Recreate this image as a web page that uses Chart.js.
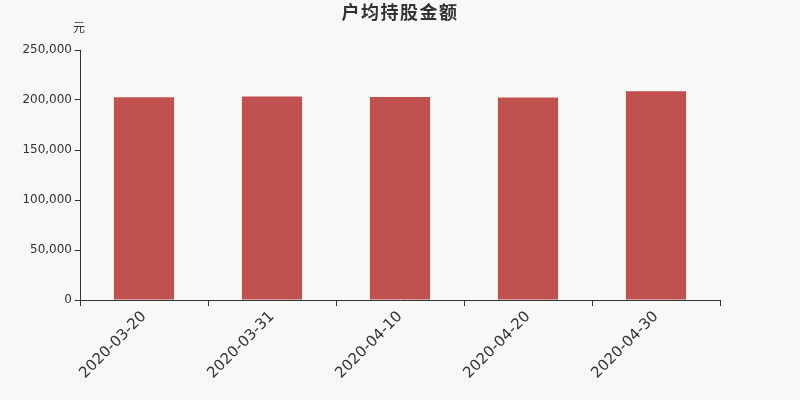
<!DOCTYPE html>
<html>
<head>
<meta charset="utf-8">
<script src="https://cdn.jsdelivr.net/npm/chart.js@4/dist/chart.umd.min.js"></script>
<style>
  html, body { margin: 0; padding: 0; background: #f8f8f8; }
  #wrap { width: 800px; height: 400px; }
</style>
</head>
<body>
<div id="wrap"><canvas id="myChart"></canvas></div>
<script>
const dates = ["2020-03-20", "2020-03-31", "2020-04-10", "2020-04-20", "2020-04-30"];
const amounts = [202800, 203600, 203000, 202600, 208800];
const chartTitle = "户均持股金额";
const unitLabel = "元";

const FONT = '"DejaVu Sans", "Noto Sans CJK SC", sans-serif';

// title centred on the whole canvas plus the unit label above the y axis
const headerPlugin = {
	id: "header",
	afterDraw(chart) {
		const ctx = chart.ctx;
		const area = chart.chartArea;
		ctx.save();
		ctx.fillStyle = "#333";
		ctx.textAlign = "center";
		ctx.textBaseline = "middle";
		ctx.font = "bold 18px " + FONT;
		if ("letterSpacing" in ctx) ctx.letterSpacing = "1.5px";
		ctx.fillText(chartTitle, chart.width / 2, 14);
		if ("letterSpacing" in ctx) ctx.letterSpacing = "0px";
		ctx.font = "12px " + FONT;
		ctx.fillText(unitLabel, area.left - 1, area.top - 21);
		ctx.restore();
	}
};

const ctx = document.getElementById("myChart").getContext("2d");
new Chart(ctx, {
	type: "bar",
	data: {
		labels: dates,
		datasets: [{
			data: amounts,
			label: chartTitle,
			backgroundColor: "#c1514e",
			categoryPercentage: 1,
			barPercentage: 0.47,
		}]
	},
	options: {
		responsive: true,
		maintainAspectRatio: false,
		animation: false,
		layout: { padding: { left: 0, right: 80, top: 50, bottom: 0 } },
		plugins: {
			legend: { display: false },
			tooltip: { enabled: false },
			title: { display: false },
		},
		scales: {
			x: {
				offset: true,
				grid: { display: true, offset: true, drawOnChartArea: false, tickLength: 6, color: "#333" },
				border: { color: "#333" },
				ticks: { color: "#333", font: { family: FONT, size: 15 }, minRotation: 45, maxRotation: 45, padding: 2 },
				afterFit(scale) { scale.height = 100; },
			},
			y: {
				min: 0,
				max: 250000,
				grid: { drawOnChartArea: false, tickLength: 5, color: "#333" },
				border: { color: "#333" },
				ticks: { stepSize: 50000, color: "#333", font: { family: FONT, size: 12 }, padding: 3 },
				afterFit(scale) { scale.width = 80; },
			},
		},
	},
	plugins: [headerPlugin],
});
</script>
</body>
</html>
